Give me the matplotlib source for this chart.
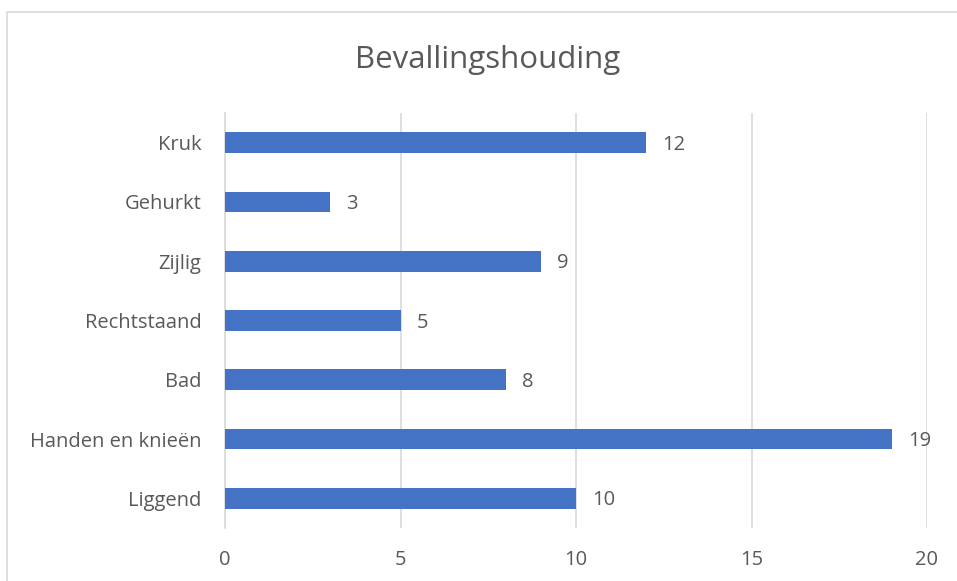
import matplotlib
matplotlib.use('Agg')
from matplotlib import pyplot as plt
from matplotlib.patches import Rectangle

# data
categories = ['Liggend', 'Handen en knieën', 'Bad', 'Rechtstaand', 'Zijlig', 'Gehurkt', 'Kruk']
values = [10, 19, 8, 5, 9, 3, 12]
xticks = [0, 5, 10, 15, 20]

plt.rcParams['font.family'] = ['Open Sans', 'DejaVu Sans']
txt = '#595959'

fig = plt.figure(figsize=(9.57, 5.81), dpi=100)
ax = fig.add_axes([225/957, 1 - 528/581, (927 - 225)/957, (528 - 113)/581])

# outer chart border (cut off at right/bottom like the screenshot)
fig.patches.append(Rectangle((7/957, -0.1), 1.2, 1 - 12/581 + 0.1, transform=fig.transFigure,
                             fill=False, edgecolor='#D9D9D9', linewidth=1.2))

bars = ax.barh(categories, values, height=0.35, color='#4472C4', zorder=3)
for b, v in zip(bars, values):
    ax.annotate(str(v), (b.get_width(), b.get_y() + b.get_height()/2), xytext=(11.5, -1.5),
                textcoords='offset points', va='center', ha='left', fontsize=14.5, color=txt)

ax.set_xlim(0, 20)
ax.set_ylim(-0.5, len(categories) - 0.5)
ax.set_xticks(xticks)
ax.grid(axis='x', color='#D9D9D9', linewidth=1.2, zorder=0)
for s in ['top', 'right', 'bottom']:
    ax.spines[s].set_visible(False)
ax.spines['left'].set_color('#D9D9D9')
ax.spines['left'].set_linewidth(1.2)
ax.tick_params(axis='both', length=0, labelsize=14.5, labelcolor=txt)
ax.tick_params(axis='y', pad=17)
ax.tick_params(axis='x', pad=16)

fig.text(488/957, 1 - 68/581, 'Bevallingshouding', ha='center', va='baseline', fontsize=22.5, color=txt)

plt.savefig('out.png')
